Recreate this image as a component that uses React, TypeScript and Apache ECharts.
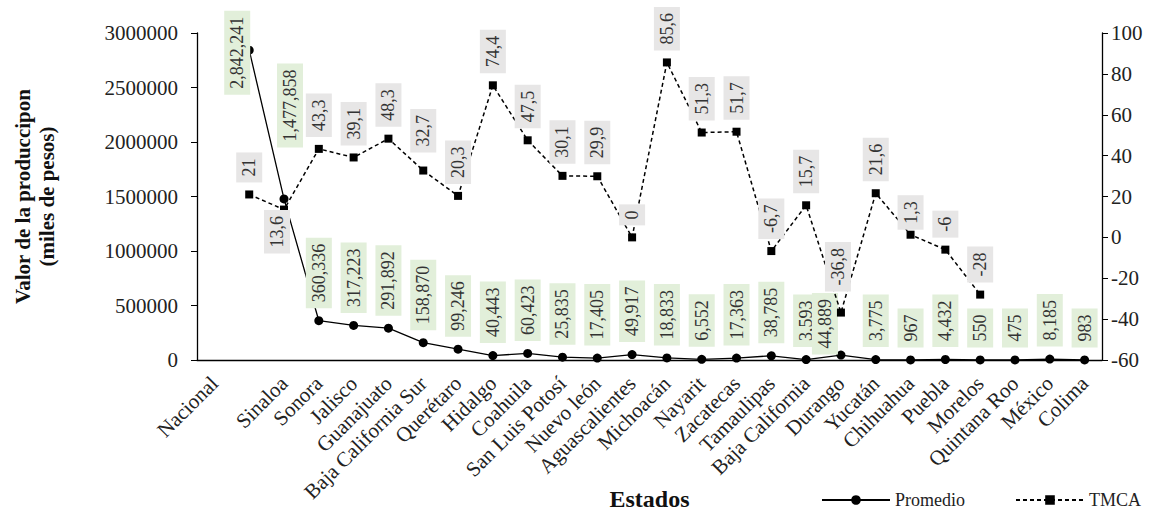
import React, { useEffect, useRef } from "react";
import * as echarts from "echarts";

const states = [
  "Nacional", "Sinaloa", "Sonora", "Jalisco", "Guanajuato", "Baja California Sur",
  "Querétaro", "Hidalgo", "Coahuila", "San Luis Potosí", "Nuevo león", "Aguascalientes",
  "Michoacán", "Nayarit", "Zacatecas", "Tamaulipas", "Baja California", "Durango",
  "Yucatán", "Chihuahua", "Puebla", "Morelos", "Quintana Roo", "México", "Colima",
];

const promedio = [
  2842241, 1477858, 360336, 317223, 291892, 158870, 99246, 40443, 60423, 25835,
  17405, 49917, 18833, 6552, 17363, 38785, 3593, 44889, 3775, 967, 4432, 550, 475,
  8185, 983,
];

const tmca: (number | null)[] = [
  21, 13.6, 43.3, 39.1, 48.3, 32.7, 20.3, 74.4, 47.5, 30.1, 29.9, 0, 85.6, 51.3,
  51.7, -6.7, 15.7, -36.8, 21.6, 1.3, -6, -28, null, null, null,
];

const leftTicks = { min: 0, max: 3000000, interval: 500000 };
const rightTicks = { min: -60, max: 100, interval: 20 };

const FONT = "'Liberation Serif', 'Times New Roman', serif";

// label nudges in screen px [dx, dy] for labels moved by hand in the original
const promedioNudge: Record<number, number[]> = { 0: [-12, 57], 1: [6, -39], 17: [-16, 12] };
const tmcaNudge: Record<number, number[]> = { 1: [-7, 56], 5: [0, -6], 17: [-3, -9], 19: [0, 7] };

// labels are rotated 90°, so their offset is expressed in the rotated frame
const toLocal = (d: number[]) => [-d[1], d[0]];

export default function App() {
  const ref = useRef<HTMLDivElement>(null);
  useEffect(() => {
    if (!ref.current) return;
    const chart = echarts.init(ref.current, null, { renderer: "svg" });
    const slots = ["", ...states];
    const promData = [
      null,
      ...promedio.map((v, i) =>
        promedioNudge[i] ? { value: v, label: { offset: toLocal(promedioNudge[i]) } } : v
      ),
    ];
    const tmcaData = [
      null,
      ...tmca.map((v, i) =>
        v !== null && tmcaNudge[i] ? { value: v, label: { offset: toLocal(tmcaNudge[i]) } } : v
      ),
    ];
    const baseLabel = {
      show: true,
      position: "top",
      distance: 8,
      rotate: 90,
      align: "left",
      verticalAlign: "middle",
      fontFamily: FONT,
      fontSize: 18,
      lineHeight: 18,
      color: "#333",
      padding: [4, 6],
    };
    chart.setOption({
      animation: false,
      backgroundColor: "#fff",
      grid: {
        left: 197,
        right: 52,
        top: 33,
        bottom: 151,
        containLabel: false,
        outerBoundsMode: "none",
      },
      legend: {
        right: 8,
        top: 486,
        itemWidth: 68,
        itemHeight: 12,
        itemGap: 50,
        textStyle: { fontFamily: FONT, fontSize: 18, color: "#222" },
        data: ["Promedio", "TMCA"],
      },
      xAxis: {
        type: "category",
        data: slots,
        boundaryGap: true,
        name: "Estados",
        nameLocation: "middle",
        nameGap: 127,
        nameMoveOverlap: false,
        nameTextStyle: { fontFamily: FONT, fontSize: 24, fontWeight: "bold", color: "#111" },
        axisLine: { lineStyle: { color: "#000", width: 1.3 } },
        axisTick: { show: false },
        axisLabel: {
          interval: 0,
          rotate: 45,
          margin: 20,
          fontFamily: FONT,
          fontSize: 21,
          color: "#222",
          formatter: (val: string, idx: number) => (idx === 0 ? states[0] : idx === 1 ? "" : val),
        },
      },
      yAxis: [
        {
          type: "value",
          ...leftTicks,
          name: "Valor de la produccipon\n(miles de pesos)",
          nameLocation: "middle",
          nameGap: 138,
          nameRotate: 90,
          nameMoveOverlap: false,
          nameTextStyle: {
            fontFamily: FONT,
            fontSize: 21,
            fontWeight: "bold",
            color: "#111",
            lineHeight: 24,
          },
          axisLine: { show: true, lineStyle: { color: "#000", width: 1.3 } },
          axisTick: { show: true, length: 6, lineStyle: { color: "#000" } },
          axisLabel: {
            fontFamily: FONT,
            fontSize: 21,
            color: "#222",
            margin: 19,
            formatter: (v: number) => String(v),
          },
          splitLine: { show: false },
        },
        {
          type: "value",
          ...rightTicks,
          position: "right",
          axisLine: { show: true, lineStyle: { color: "#000", width: 1.3 } },
          axisTick: { show: true, length: 6, lineStyle: { color: "#000" } },
          axisLabel: { fontFamily: FONT, fontSize: 21, color: "#222", margin: 9 },
          splitLine: { show: false },
        },
      ],
      series: [
        {
          name: "Promedio",
          type: "line",
          yAxisIndex: 0,
          data: promData,
          symbol: "circle",
          symbolSize: 9,
          itemStyle: { color: "#000" },
          lineStyle: { color: "#000", width: 1.3 },
          label: {
            ...baseLabel,
            backgroundColor: "#e2efda",
            formatter: (p: any) => Number(p.value).toLocaleString("en-US"),
          },
          z: 3,
        },
        {
          name: "TMCA",
          type: "line",
          yAxisIndex: 1,
          data: tmcaData,
          symbol: "rect",
          symbolSize: 8,
          itemStyle: { color: "#000" },
          lineStyle: { color: "#000", width: 1.5, type: [4, 3] },
          label: {
            ...baseLabel,
            backgroundColor: "#e7e6e6",
            formatter: (p: any) => String(p.value).replace(".", ","),
          },
          z: 4,
        },
      ],
    });
    return () => chart.dispose();
  }, []);
  return (
    <div
      ref={ref}
      style={{ position: "fixed", left: 0, top: 0, width: 1154, height: 511, background: "#fff" }}
    />
  );
}
